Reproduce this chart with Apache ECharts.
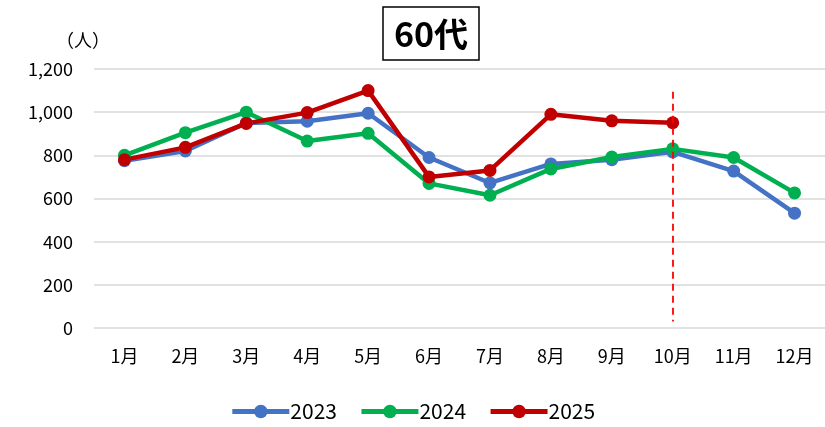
<!DOCTYPE html>
<html><head><meta charset="utf-8">
<script src="https://cdn.jsdelivr.net/npm/echarts@6/dist/echarts.min.js"></script>
<style>html,body{margin:0;padding:0;background:#fff}#c{width:825px;height:427px}</style>
</head><body><div id="c"></div>
<script>
const categories = ['1月','2月','3月','4月','5月','6月','7月','8月','9月','10月','11月','12月'];
const s2023 = [775, 820, 950, 958, 995, 790, 672, 760, 780, 816, 727, 532];
const s2024 = [800, 905, 1000, 866, 902, 670, 615, 737, 792, 830, 790, 626];
const s2025 = [780, 837, 948, 998, 1100, 700, 730, 990, 960, 951];
const seriesNames = ['2023','2024','2025'];
const yTicks = [0, 200, 400, 600, 800, 1000, 1200];
const markMonth = '10月';
const markRange = [1095, 30];

const FONT = '"Noto Sans CJK JP", "Noto Sans", sans-serif';
const colors = ['#4472C4', '#00B050', '#C00000'];
const chart = echarts.init(document.getElementById('c'));
function mk(name, data, color, extra) {
  return Object.assign({
    name, type: 'line', data,
    symbol: 'circle', symbolSize: 13,
    lineStyle: { width: 4.5, color },
    itemStyle: { color },
    emphasis: { disabled: true },
    animation: false
  }, extra || {});
}
chart.setOption({
  animation: false,
  textStyle: { fontFamily: FONT },
  title: {
    text: '60代', left: 383, top: 7,
    padding: [10, 11, 9, 11],
    borderColor: '#000', borderWidth: 1.5,
    textStyle: { fontSize: 34, fontWeight: 'bold', color: '#000', fontFamily: FONT }
  },
  graphic: [{
    type: 'text', left: 56, top: 31,
    style: { text: '（人）', fill: '#000', font: '18px ' + FONT }
  }],
  grid: { left: 94, right: 0, top: 69, bottom: 99 },
  legend: {
    bottom: 0, left: 'center',
    itemWidth: 57, itemHeight: 17, itemGap: 22,
    lineStyle: { width: 5 },
    textStyle: { fontSize: 21, color: '#000', fontFamily: FONT, padding: [0,0,0,-4] },
    data: seriesNames
  },
  xAxis: {
    type: 'category', data: categories, boundaryGap: true,
    axisLine: { show: false }, axisTick: { show: false },
    axisLabel: { fontSize: 18, color: '#000', margin: 19, fontFamily: FONT }
  },
  yAxis: {
    type: 'value', min: yTicks[0], max: yTicks[yTicks.length-1], interval: 200,
    axisLine: { show: false }, axisTick: { show: false },
    splitLine: { lineStyle: { color: '#d9d9d9', width: 1.5 } },
    axisLabel: { fontSize: 18, color: '#000', margin: 21, fontFamily: FONT,
      formatter: v => v.toLocaleString('en-US') }
  },
  series: [
    mk(seriesNames[0], s2023, colors[0]),
    mk(seriesNames[1], s2024, colors[1]),
    mk(seriesNames[2], s2025, colors[2], {
      markLine: {
        silent: true, symbol: 'none', label: { show: false },
        lineStyle: { color: '#ff0000', type: [7, 5], width: 1.8 },
        data: [[{ coord: [markMonth, markRange[0]] }, { coord: [markMonth, markRange[1]] }]]
      }
    })
  ]
});
</script></body></html>
